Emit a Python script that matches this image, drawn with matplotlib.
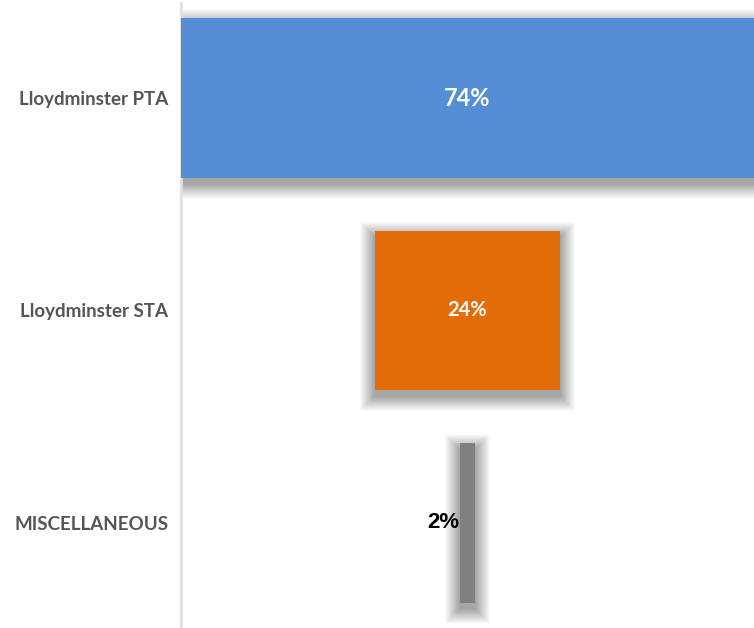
import matplotlib.pyplot as plt
from matplotlib.patches import Rectangle

categories = ['Lloydminster PTA', 'Lloydminster STA', 'MISCELLANEOUS']
shares = [74, 24, 2]
colors = ['#558ED5', '#E36C09', '#808080']

fig = plt.figure(figsize=(7.54, 6.28), dpi=100)
ax = fig.add_axes([181/754, 0, 573/754, 1])

W, H = 754, 628
half = max(shares) / 2.0
ax.set_xlim(-half, half)
pitch = 212.5
ax.set_ylim(2 + (H - 523) / pitch, -98 / pitch)

px_x = (2 * half) / 573.0
px_y = 1 / pitch
bar_h = 0.75

# soft drop shadow: stacked transparent rectangles
def shadow(x0, y0, w, h):
  for k in range(30, 0, -1):
    pad = k * 0.5
    ax.add_patch(Rectangle((x0 - pad * px_x, y0 - pad * px_y + 6 * px_y),
                           w + 2 * pad * px_x, h + 2 * pad * px_y,
                           facecolor='black', edgecolor='none',
                           alpha=0.011, zorder=1))

for i, v in enumerate(shares):
  shadow(-v / 2.0, i - bar_h / 2, v, bar_h)

bars = ax.barh(range(len(shares)), shares, left=[-v / 2.0 for v in shares],
               height=bar_h, color=colors, zorder=3)

ax.text(0, 0, '{}%'.format(shares[0]), color='white', fontsize=17,
        fontweight='bold', family='Lato', ha='center', va='center', zorder=4)
ax.text(0, 1, '{}%'.format(shares[1]), color='white', fontsize=14.5,
        fontweight='bold', family='Lato', ha='center', va='center', zorder=4)
ax.text(-shares[2] / 2.0, 2, '{}%'.format(shares[2]), color='black',
        fontsize=16, fontweight='bold', family='Liberation Sans',
        ha='right', va='center', zorder=4)

ax.set_yticks(range(len(categories)))
ax.set_yticklabels(categories, fontsize=13.5, fontweight='bold',
                   family='Lato', color='#555555')
ax.tick_params(axis='y', length=0, pad=9)
ax.set_xticks([])
for s in ['top', 'right', 'bottom']:
  ax.spines[s].set_visible(False)
ax.spines['left'].set_color('#e0e0e0')
ax.spines['left'].set_linewidth(2)
ax.spines['left'].set_bounds(2 + (H - 523) / pitch, -95 / pitch)

fig.savefig('out.png', dpi=100)
